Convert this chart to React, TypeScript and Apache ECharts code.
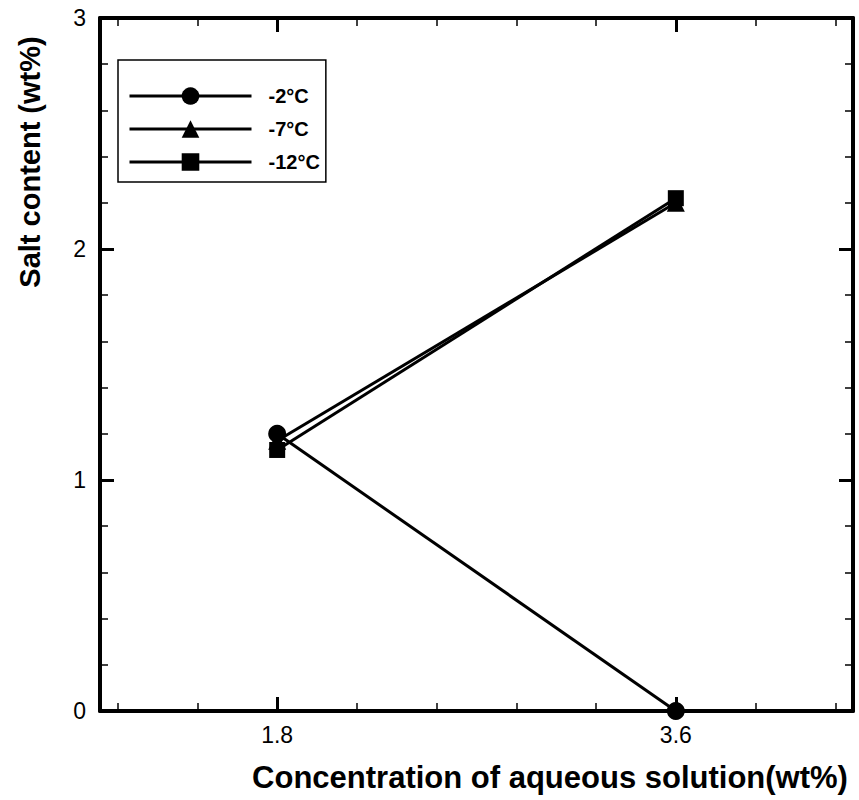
import React, { useEffect, useRef } from "react";
import * as echarts from "echarts";

const seriesNames = ["-2°C", "-7°C", "-12°C"];
const xValues = [1.8, 3.6];
const saltMinus2 = [1.2, 0.0];
const saltMinus7 = [1.17, 2.2];
const saltMinus12 = [1.13, 2.22];
const symbols = ["circle", "triangle", "rect"];
const symbolSizes = [18, 18, 16];
const xMajorTicks = [1.8, 3.6];
const xMinorTicks = [1.08, 1.44, 2.16, 2.52, 2.88, 3.24, 3.96, 4.32];

const xTitle = "Concentration of aqueous solution(wt%)";
const yTitle = "Salt content (wt%)";

const BOLD = "'Liberation Sans', Arial, sans-serif";
const NARROW = "'Liberation Sans Narrow', 'Arial Narrow', 'Liberation Sans', Arial, sans-serif";

export default function App() {
  const ref = useRef<HTMLDivElement>(null);
  useEffect(() => {
    if (!ref.current) return;
    const chart = echarts.init(ref.current, undefined, { renderer: "svg" });
    const allSeries = [saltMinus2, saltMinus7, saltMinus12];
    const common = { min: 1.0, max: 4.4, type: "value" as const, splitLine: { show: false } };
    const lineStyle = { color: "#000", width: 4 };
    chart.setOption({
      animation: false,
      backgroundColor: "#fff",
      grid: { left: 100, right: 6, top: 18, bottom: 89, containLabel: false },
      legend: {
        orient: "vertical",
        left: 118,
        top: 60,
        data: seriesNames,
        borderColor: "#000",
        borderWidth: 1.5,
        padding: [26, 6, 10, 10],
        itemWidth: 122,
        itemHeight: 22,
        itemGap: 13,
        lineStyle: { width: 3, color: "#000" },
        textStyle: { fontFamily: BOLD, fontWeight: "bold", fontSize: 20, color: "#000", padding: [0, 0, 0, 12] },
      },
      xAxis: [
        {
          ...common,
          position: "bottom",
          axisLine: { show: true, onZero: false, lineStyle },
          axisTick: { show: true, inside: true, length: 14, customValues: xMajorTicks, lineStyle: { color: "#000", width: 3 } },
          axisLabel: {
            show: true,
            customValues: xMajorTicks,
            formatter: (v: number) => v.toFixed(1),
            fontFamily: NARROW,
            fontSize: 23,
            color: "#000",
            margin: 12,
          },
        },
        {
          ...common,
          position: "bottom",
          axisLine: { show: false, onZero: false },
          axisTick: { show: true, inside: true, length: 8, customValues: xMinorTicks, lineStyle: { color: "#000", width: 1.5 } },
          axisLabel: { show: false },
        },
        {
          ...common,
          position: "top",
          axisLine: { show: true, onZero: false, lineStyle },
          axisTick: { show: true, inside: true, length: 14, customValues: xMajorTicks, lineStyle: { color: "#000", width: 3 } },
          axisLabel: { show: false },
        },
        {
          ...common,
          position: "top",
          axisLine: { show: false, onZero: false },
          axisTick: { show: true, inside: true, length: 8, customValues: xMinorTicks, lineStyle: { color: "#000", width: 1.5 } },
          axisLabel: { show: false },
        },
      ],
      yAxis: [
        {
          type: "value",
          min: 0,
          max: 3,
          interval: 1,
          position: "left",
          splitLine: { show: false },
          axisLine: { show: true, onZero: false, lineStyle },
          axisTick: { show: true, inside: true, length: 14, lineStyle: { color: "#000", width: 3 } },
          minorTick: { show: true, splitNumber: 5, length: 8, lineStyle: { color: "#000", width: 1.5 } },
          axisLabel: { fontFamily: NARROW, fontSize: 23, color: "#000", margin: 14 },
        },
        {
          type: "value",
          min: 0,
          max: 3,
          interval: 1,
          position: "right",
          splitLine: { show: false },
          axisLine: { show: true, onZero: false, lineStyle },
          axisTick: { show: true, inside: true, length: 14, lineStyle: { color: "#000", width: 3 } },
          minorTick: { show: true, splitNumber: 5, length: 8, lineStyle: { color: "#000", width: 1.5 } },
          axisLabel: { show: false },
        },
      ],
      series: seriesNames.map((name, i) => ({
        name,
        type: "line",
        xAxisIndex: 0,
        yAxisIndex: 0,
        data: xValues.map((x, j) => [x, allSeries[i][j]]),
        symbol: symbols[i],
        symbolSize: symbolSizes[i],
        lineStyle: { color: "#000", width: 3 },
        itemStyle: { color: "#000" },
        z: 5,
      })),
      graphic: [
        {
          type: "text",
          x: 550,
          y: 777,
          style: {
            text: xTitle,
            fontFamily: BOLD,
            fontWeight: "bold",
            fontSize: 31,
            fill: "#000",
            align: "center",
            verticalAlign: "middle",
          },
        },
        {
          type: "text",
          x: 30,
          y: 162,
          rotation: Math.PI / 2,
          style: {
            text: yTitle,
            fontFamily: BOLD,
            fontWeight: "bold",
            fontSize: 29,
            fill: "#000",
            align: "center",
            verticalAlign: "middle",
          },
        },
      ],
    });
    return () => chart.dispose();
  }, []);
  return <div ref={ref} style={{ width: 859, height: 800, position: "absolute", left: 0, top: 0 }} />;
}
